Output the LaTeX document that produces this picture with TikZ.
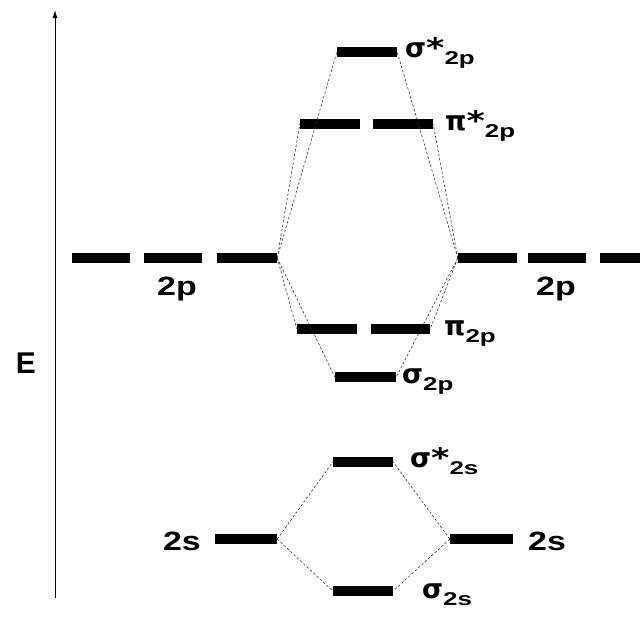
\documentclass[tikz,border=0pt]{standalone}
\usepackage{graphicx}
\usepackage{fontspec}
\setmainfont{Liberation Sans}
\newfontfamily\grk{DejaVu Sans}
\usetikzlibrary{arrows.meta}
\newcommand{\mlab}[1]{\fontsize{26.5}{27}\selectfont\bfseries\scalebox{1.28}[1]{#1}}
\newcommand{\orb}[3]{{\fontsize{27}{28}\selectfont\grk\bfseries #1\scalebox{1.3}[1]{#2}}\raisebox{-7pt}{\fontsize{18.5}{19}\selectfont\bfseries\scalebox{1.4}[1]{#3}}}
\tikzset{
  lvl/.style={rectangle, fill=black, inner sep=0pt, minimum height=10pt, minimum width=59pt},
  conn/.style={draw=black!80, line width=0.6pt, dash pattern=on 2.5pt off 2pt},
  lab/.style={inner sep=0pt, anchor=base west},
  mainlab/.style={inner sep=0pt, anchor=base}
}
\begin{document}
\begin{tikzpicture}[x=1pt, y=-1pt]
\useasboundingbox (0,0) rectangle (640,627);
% axis
\coordinate (axb) at (55,598);
\coordinate (axt) at (55,10);
\draw[line width=1pt, -{Latex[length=8pt,width=5pt]}] (axb) -- (axt);
\node[inner sep=0pt] (E) at (26,363) {\fontsize{30}{30}\selectfont\bfseries E};
% atomic 2p (left)
\node[lvl, minimum width=58pt] (pl1) at (101,258) {};
\node[lvl, minimum width=58pt] (pl2) at (173,258) {};
\node[lvl, minimum width=60pt] (pl3) at (247,258) {};
% atomic 2p (right)
\node[lvl, minimum width=59pt] (pr1) at (487.5,258) {};
\node[lvl, minimum width=58pt] (pr2) at (557,258) {};
\node[lvl, minimum width=42pt] (pr3) at (621,258) {};
% atomic 2s
\node[lvl, minimum width=62pt] (sl) at (246,539) {};
\node[lvl, minimum width=63pt] (sr) at (481.5,539) {};
% molecular orbitals
\node[lvl, minimum width=60pt] (sgs2p) at (367,52) {};
\node[lvl, minimum width=60pt] (pis2pa) at (330,124) {};
\node[lvl, minimum width=60pt] (pis2pb) at (403,124) {};
\node[lvl, minimum width=60pt] (pi2pa) at (327,329) {};
\node[lvl, minimum width=59pt] (pi2pb) at (400.5,329) {};
\node[lvl, minimum width=61pt] (sg2p) at (365.5,377) {};
\node[lvl, minimum width=60pt] (sgs2s) at (363,462) {};
\node[lvl, minimum width=60pt] (sg2s) at (363,591) {};
% connectors
\draw[conn] (pl3.east) -- (sgs2p.west);
\draw[conn] (pl3.east) -- (pis2pa.west);
\draw[conn] (pl3.east) -- (pi2pa.west);
\draw[conn] (pl3.east) -- (sg2p.west);
\draw[conn] (pr1.west) -- (sgs2p.east);
\draw[conn] (pr1.west) -- (pis2pb.east);
\draw[conn] (pr1.west) -- (pi2pb.east);
\draw[conn] (pr1.west) -- (sg2p.east);
\draw[conn] (sl.east) -- (sgs2s.west);
\draw[conn] (sl.east) -- (sg2s.west);
\draw[conn] (sr.west) -- (sgs2s.east);
\draw[conn] (sr.west) -- (sg2s.east);
% labels
\node[mainlab] (l2pl) at (177,295) {\mlab{2p}};
\node[mainlab] (l2pr) at (556,295) {\mlab{2p}};
\node[mainlab] (l2sl) at (182,550) {\mlab{2s}};
\node[mainlab] (l2sr) at (547,550) {\mlab{2s}};
\node[lab] (tsgs2p) at (405,57) {\orb{σ}{*}{2p}};
\node[lab] (tpis2p) at (445,130) {\orb{π}{*}{2p}};
\node[lab] (tpi2p) at (444,335) {\orb{π}{}{2p}};
\node[lab] (tsg2p) at (402,383) {\orb{σ}{}{2p}};
\node[lab] (tsgs2s) at (410,467) {\orb{σ}{*}{2s}};
\node[lab] (tsg2s) at (422,598) {\orb{σ}{}{2s}};
\end{tikzpicture}
\end{document}
